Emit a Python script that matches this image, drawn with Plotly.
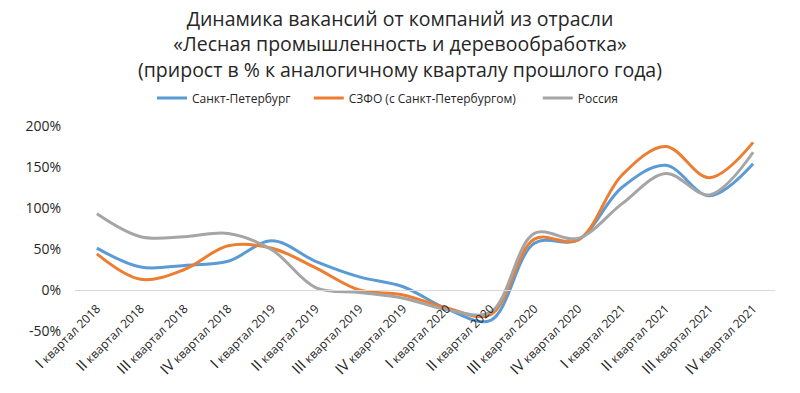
import plotly.graph_objects as go

numerals = ["I", "II", "III", "IV"]
years = ["2018", "2019", "2020", "2021"]
categories = [f"{n} квартал {y}" for y in years for n in numerals]
tick_labels = [f"<span style='font-size:15px'>{n}</span> квартал {y}" for y in years for n in numerals]

spb = [51, 28, 30, 35, 60, 35, 16, 4, -23, -37, 57, 61, 125, 152, 115, 154]
szfo = [44, 13, 25, 54, 51, 27, 0, -6, -22, -30, 62, 61, 140, 175, 137, 180]
russia = [93, 65, 65, 69, 49, 3, -3, -10, -24, -27, 69, 63, 105, 142, 116, 168]

series_names = ["Санкт-Петербург", "СЗФО (с Санкт-Петербургом)", "Россия"]
colors = ["#5b9bd5", "#ed7d31", "#a5a5a5"]
legend_ids = ["legend", "legend2", "legend3"]
legend_x = [0.11, 0.334, 0.661]

font = "Open Sans, Noto Sans, sans-serif"
fig = go.Figure()
for name, vals, c, lg in zip(series_names, [spb, szfo, russia], colors, legend_ids):
    fig.add_trace(go.Scatter(
        x=categories, y=vals, name=name, mode="lines", legend=lg,
        line=dict(color=c, width=3, shape="spline", smoothing=1.0),
    ))

legend_common = dict(
    orientation="h", xanchor="left", y=1.137, yanchor="middle",
    font=dict(size=12, color="#262626", family=font), itemwidth=30,
    bgcolor="rgba(0,0,0,0)",
)

fig.update_layout(
    width=800, height=393,
    margin=dict(l=75, r=25, t=126, b=62, autoexpand=False),
    paper_bgcolor="white", plot_bgcolor="white",
    font=dict(family=font, color="#262626"),
    title=dict(
        text="Динамика вакансий от компаний из отрасли<br>«Лесная промышленность и деревообработка»<br>(прирост в % к аналогичному кварталу прошлого года)",
        x=0.5, xanchor="center", y=0.934, yanchor="top",
        font=dict(size=19.5, color="#262626", family=font),
    ),
    legend=dict(x=legend_x[0], **legend_common),
    legend2=dict(x=legend_x[1], **legend_common),
    legend3=dict(x=legend_x[2], **legend_common),
    showlegend=True,
)
fig.update_xaxes(
    tickmode="array", tickvals=categories, ticktext=tick_labels,
    tickangle=-45, tickfont=dict(size=12, color="#262626", family=font),
    showgrid=False, showline=True, linecolor="#d9d9d9", linewidth=1,
    anchor="free", position=0.2, ticks="outside", ticklen=6, tickcolor="rgba(0,0,0,0)",
    range=[-0.5, 15.5], automargin=False,
)
fig.update_yaxes(
    range=[-50, 200], tickvals=[-50, 0, 50, 100, 150, 200],
    ticktext=["-50%", "0%", "50%", "100%", "150%", "200%"],
    tickfont=dict(size=14, color="#262626", family=font),
    showgrid=False, zeroline=False, ticks="outside", ticklen=10, tickcolor="rgba(0,0,0,0)",
    automargin=False,
)
fig.write_html("out.html", config={"displayModeBar": False},
               post_script="document.body.style.margin='0';")
